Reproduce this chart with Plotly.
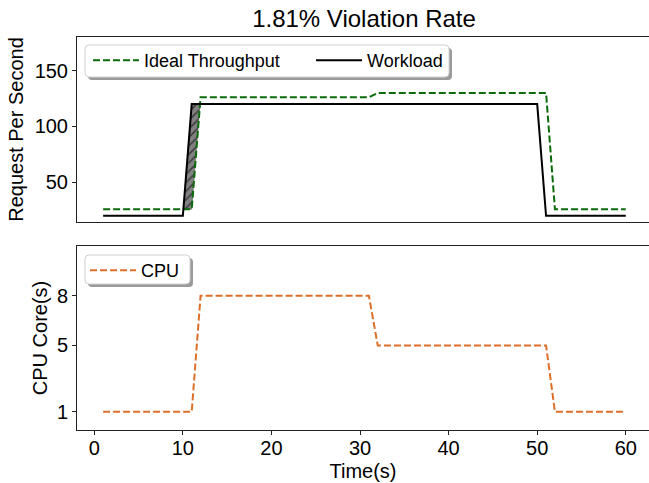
import numpy as np
import plotly.graph_objects as go

# ---- data ----
t_work = [1, 10, 11, 50, 51, 60]
workload = [20, 20, 120, 120, 20, 20]

t_ideal = [1, 11, 12, 31, 32, 51, 52, 60]
ideal = [26, 26, 126, 126, 130, 130, 26, 26]

t_cpu = [1, 11, 12, 31, 32, 51, 52, 60]
cpu = [1, 1, 8, 8, 5, 5, 1, 1]

x_ticks = [0, 10, 20, 30, 40, 50, 60]
top_ticks = [50, 100, 150]
cpu_ticks = [1, 5, 8]

title_text = "1.81% Violation Rate"

W, H = 649, 483
FONT = "Liberation Sans, Arial, sans-serif"


def fx(px):
    return px / W


def fy(py):
    return 1 - py / H


# ---- violation regions (workload above ideal) ----
def violation_polys(ta, a, tb, b):
    tt = sorted(set(ta) | set(tb))
    wa = np.interp(tt, ta, a)
    wb = np.interp(tt, tb, b)
    polys = []
    cur_up, cur_lo = [], []
    for k in range(len(tt)):
        d = wa[k] - wb[k]
        if k > 0:
            dp = wa[k - 1] - wb[k - 1]
            if (dp > 0) != (d > 0) and dp != d:
                f = dp / (dp - d)
                tc = tt[k - 1] + f * (tt[k] - tt[k - 1])
                yc = wb[k - 1] + f * (wb[k] - wb[k - 1])
                cur_up.append((tc, yc))
                cur_lo.append((tc, yc))
                if dp > 0:
                    polys.append((cur_up, cur_lo))
                    cur_up, cur_lo = [], []
        if d > 0:
            cur_up.append((tt[k], wa[k]))
            cur_lo.append((tt[k], wb[k]))
    if cur_up:
        polys.append((cur_up, cur_lo))
    return polys


fig = go.Figure()

for up, lo in violation_polys(t_work, workload, t_ideal, ideal):
    pts = up + lo[::-1]
    fig.add_trace(go.Scatter(
        x=[p[0] for p in pts] + [pts[0][0]],
        y=[p[1] for p in pts] + [pts[0][1]],
        mode="lines", fill="toself",
        line=dict(width=0.5, color="#555555"),
        fillcolor="#808080",
        fillpattern=dict(shape="/", bgcolor="#808080", fgcolor="#3a3a3a",
                         size=6, solidity=0.25, fillmode="replace"),
        showlegend=False, hoverinfo="skip", xaxis="x", yaxis="y"))

fig.add_trace(go.Scatter(
    x=t_ideal, y=ideal, mode="lines", name="Ideal Throughput",
    line=dict(color="#0b6b0b", width=2, dash="7px,3px"),
    xaxis="x", yaxis="y", legend="legend"))
fig.add_trace(go.Scatter(
    x=t_work, y=workload, mode="lines", name="Workload",
    line=dict(color="black", width=2),
    xaxis="x", yaxis="y", legend="legend"))
fig.add_trace(go.Scatter(
    x=t_cpu, y=cpu, mode="lines", name="CPU",
    line=dict(color="#dd6f2a", width=2, dash="7px,3px"),
    xaxis="x2", yaxis="y2", legend="legend2"))

xr = [-1.95, 62.62]
axis_common = dict(showline=True, linecolor="#222222", linewidth=1,
                   ticks="outside", ticklen=4, tickwidth=1, tickcolor="#222222",
                   showgrid=False, zeroline=False,
                   tickfont=dict(size=20, color="black", family=FONT),
                   automargin=False)

fig.update_layout(
    width=W, height=H,
    margin=dict(l=0, r=0, t=0, b=0),
    paper_bgcolor="white", plot_bgcolor="white",
    font=dict(family=FONT, color="black"),
    title=dict(text=title_text, x=fx(364), y=fy(19), xanchor="center",
               yanchor="middle", font=dict(size=24, color="black", family=FONT)),
    xaxis=dict(domain=[fx(77), 1], range=xr, anchor="y", mirror=True,
               tickvals=x_ticks, showticklabels=False, ticks="",
               **{k: v for k, v in axis_common.items() if k not in ("ticks",)}),
    yaxis=dict(domain=[fy(222), fy(37)], range=[14.5, 180], anchor="x",
               tickvals=top_ticks,
               title=dict(text="Request Per Second", standoff=5,
                          font=dict(size=20, family=FONT)),
               **axis_common),
    xaxis2=dict(domain=[fx(77), 1], range=xr, anchor="y2", mirror=True,
                tickvals=x_ticks, ticklabelstandoff=-4,
                title=dict(text="Time(s)", standoff=5,
                           font=dict(size=20, family=FONT)),
                **axis_common),
    yaxis2=dict(domain=[fy(430), fy(246)], range=[-0.1, 11], anchor="x2",
                tickvals=cpu_ticks,
                title=dict(text="CPU Core(s)", standoff=3,
                           font=dict(size=20, family=FONT)),
                **axis_common),
    legend=dict(x=fx(88), y=fy(42), xanchor="left", yanchor="top",
                orientation="h", bgcolor="rgba(0,0,0,0)", borderwidth=0,
                font=dict(size=18, family=FONT, color="black"),
                entrywidthmode="pixels", entrywidth=162, itemwidth=46),
    legend2=dict(x=fx(85), y=fy(252), xanchor="left", yanchor="top",
                 orientation="h", bgcolor="rgba(0,0,0,0)", borderwidth=0,
                 font=dict(size=18, family=FONT, color="black"),
                 itemwidth=46),
)


def rounded_rect(x0, y0, x1, y1, r):
    return (f"M {fx(x0 + r)},{fy(y0)} L {fx(x1 - r)},{fy(y0)} "
            f"Q {fx(x1)},{fy(y0)} {fx(x1)},{fy(y0 + r)} "
            f"L {fx(x1)},{fy(y1 - r)} Q {fx(x1)},{fy(y1)} {fx(x1 - r)},{fy(y1)} "
            f"L {fx(x0 + r)},{fy(y1)} Q {fx(x0)},{fy(y1)} {fx(x0)},{fy(y1 - r)} "
            f"L {fx(x0)},{fy(y0 + r)} Q {fx(x0)},{fy(y0)} {fx(x0 + r)},{fy(y0)} Z")


shapes = []
for (x0, y0, x1, y1) in [(85, 45, 449, 77), (85, 255, 190, 284)]:
    shapes.append(dict(type="path", xref="paper", yref="paper",
                       path=rounded_rect(x0 + 3, y0 + 3, x1 + 3, y1 + 3, 4),
                       fillcolor="#9a9a9a", line=dict(width=0), layer="above"))
    shapes.append(dict(type="path", xref="paper", yref="paper",
                       path=rounded_rect(x0, y0, x1, y1, 4),
                       fillcolor="white", line=dict(color="#d0d0d0", width=1),
                       layer="above"))
fig.update_layout(shapes=shapes)

fig.write_html("out.html")
